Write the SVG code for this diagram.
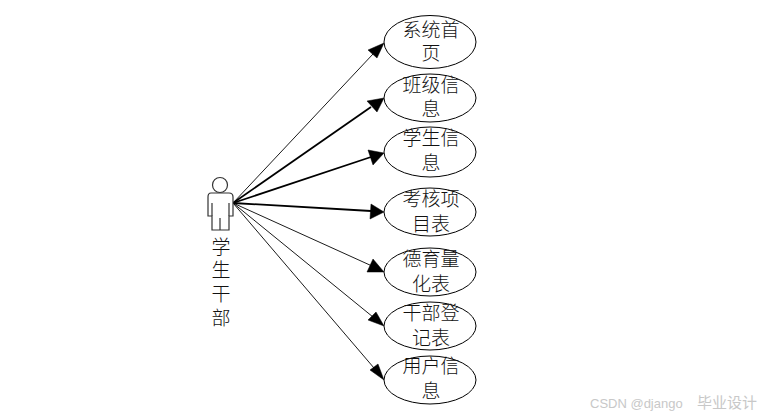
<svg xmlns="http://www.w3.org/2000/svg" width="761" height="417" viewBox="0 0 761 417">
<style>
.n{fill:#fff;stroke:#000;stroke-width:1}
.t{font-family:"Noto Sans CJK SC","Liberation Serif",sans-serif;font-size:19px;font-weight:300;fill:#111;text-anchor:middle}
.c{stroke:#000;fill:none}
.thin{stroke-width:.9}
.thick{stroke-width:1.8}
.h{fill:#000;stroke:#000;stroke-width:.5}
.a{fill:#fff;stroke:#333;stroke-width:1.2}
.w{font-family:"Liberation Sans","Noto Sans CJK SC",sans-serif;fill:#c8c8c8}
</style>
<rect width="761" height="417" fill="#fff"/>
<g id="connectors">
<path class="c thin" d="M233 203L373 54"/><polygon class="h" points="384,43 377,58 368,50"/>
<path class="c thick" d="M233 203L371 107"/><polygon class="h" points="384,98 377,112 367,101"/>
<path class="c thick" d="M233 203L371 157"/><polygon class="h" points="384,153 373,165 368,150"/>
<path class="c thick" d="M233 203L371 211"/><polygon class="h" points="384,212 370,219 371,204"/>
<path class="c thin" d="M233 203L372 266"/><polygon class="h" points="384,272 367,272 373,259"/>
<path class="c thin" d="M233 203L373 317"/><polygon class="h" points="384,326 368,320 376,312"/>
<path class="c thin" d="M233 203L374 368"/><polygon class="h" points="384,380 370,370 378,364"/>
</g>
<g id="actor">
<circle class="a" cx="220" cy="185" r="7.5"/>
<path class="a" d="M211 193H229Q233 193 233 197V216H229V230H212V216H208V197Q208 193 211 193Z"/>
<path class="a" d="M212 203V216M229 203V216M220 218V230"/>
<text class="t"><tspan x="221" y="254">学</tspan><tspan x="221" y="277">生</tspan><tspan x="221" y="301">干</tspan><tspan x="221" y="325">部</tspan></text>
</g>
<g id="n1"><ellipse class="n" cx="430" cy="42" rx="46" ry="26.5"/><text class="t"><tspan x="431" y="37">系统首</tspan><tspan x="431" y="60">页</tspan></text></g>
<g id="n2"><ellipse class="n" cx="430" cy="98" rx="46" ry="24"/><text class="t"><tspan x="431" y="92">班级信</tspan><tspan x="431" y="116">息</tspan></text></g>
<g id="n3"><ellipse class="n" cx="430" cy="152" rx="46" ry="25"/><text class="t"><tspan x="431" y="145">学生信</tspan><tspan x="431" y="170">息</tspan></text></g>
<g id="n4"><ellipse class="n" cx="430" cy="212" rx="46" ry="24"/><text class="t"><tspan x="431" y="206">考核项</tspan><tspan x="431" y="231">目表</tspan></text></g>
<g id="n5"><ellipse class="n" cx="430" cy="272" rx="46" ry="24"/><text class="t"><tspan x="431" y="266">德育量</tspan><tspan x="431" y="291">化表</tspan></text></g>
<g id="n6"><ellipse class="n" cx="430" cy="326" rx="46" ry="24"/><text class="t"><tspan x="431" y="320">干部登</tspan><tspan x="431" y="345">记表</tspan></text></g>
<g id="n7"><ellipse class="n" cx="430" cy="380" rx="46" ry="24"/><text class="t"><tspan x="431" y="373">用户信</tspan><tspan x="431" y="398">息</tspan></text></g>
<text class="w" x="590" y="408" font-size="13">CSDN @django</text>
<text class="w" x="697" y="408" font-size="15">毕业设计</text>
</svg>
